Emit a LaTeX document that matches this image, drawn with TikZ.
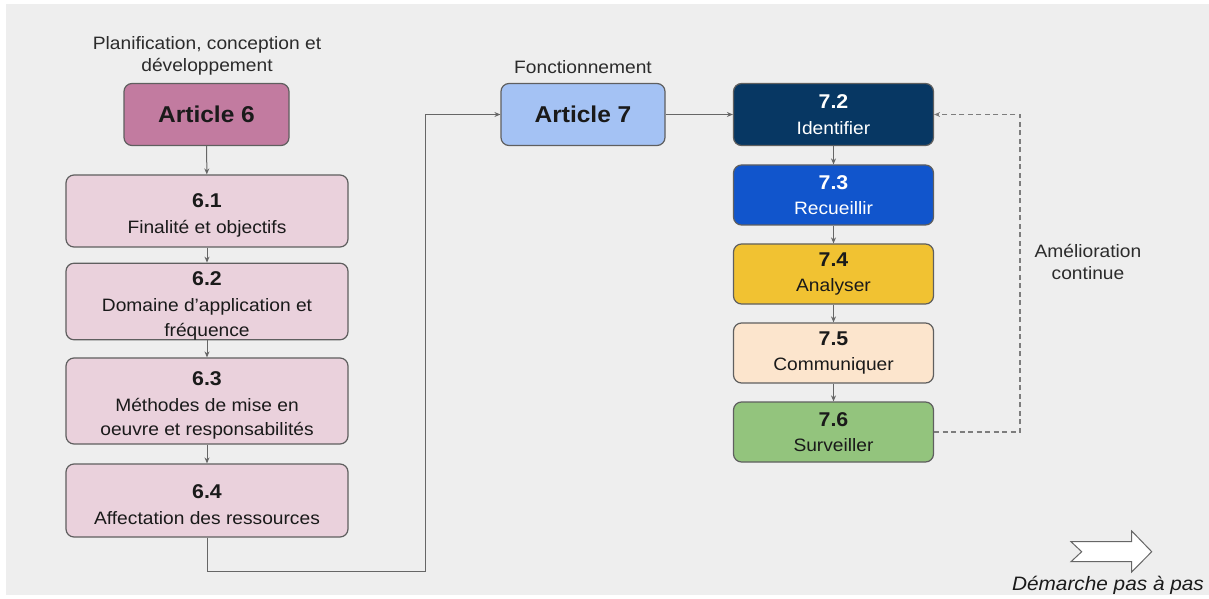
\documentclass[tikz,border=0pt]{standalone}
\usepackage{fontspec}
\setmainfont[FakeStretch=1.07]{Liberation Sans}
\usetikzlibrary{arrows.meta}
\definecolor{bg}{HTML}{EEEEEE}
\definecolor{bordc}{HTML}{5F5F5F}
\definecolor{connc}{HTML}{666666}
\definecolor{txtc}{HTML}{1A1A1A}
\definecolor{labc}{HTML}{2B2B2B}
\definecolor{artsix}{HTML}{C27BA0}
\definecolor{sixfill}{HTML}{EAD1DC}
\definecolor{artseven}{HTML}{A4C2F4}
\definecolor{sdeux}{HTML}{073763}
\definecolor{strois}{HTML}{1155CC}
\definecolor{squatre}{HTML}{F1C232}
\definecolor{scinq}{HTML}{FCE5CD}
\definecolor{ssix}{HTML}{93C47D}
\newcommand{\ttl}[1]{{\bfseries\fontsize{20}{24}\selectfont #1}\\[1bp]}
\newcommand{\ttlL}[1]{{\bfseries\fontsize{20}{24}\selectfont\rule{0pt}{22.5bp}#1}\\[1.5bp]}
\tikzset{
  boxst/.style={draw=bordc, line width=1.2bp, rounded corners=8bp, align=center,
    inner sep=0pt, text=txtc, font=\fontsize{18}{24.5}\selectfont},
  leftbox/.style={boxst, fill=sixfill, minimum width=282bp},
  rightbox/.style={boxst, minimum width=200bp, minimum height=60bp},
  artbox/.style={boxst, minimum width=165bp, minimum height=62bp,
    font=\bfseries\fontsize{23}{26}\selectfont},
  conn/.style={draw=connc, line width=1bp, -{Stealth[length=6bp,width=5bp]}},
  dashconn/.style={draw=connc!85, line width=1.2bp, dash pattern=on 5bp off 3.5bp,
    -{Stealth[length=6bp,width=5bp]}},
  lab/.style={align=center, text=labc, font=\fontsize{18}{22.5}\selectfont, inner sep=0pt}
}
\begin{document}
\begin{tikzpicture}[x=1bp,y=-1bp]
\useasboundingbox (0,0) rectangle (1209,599);
\fill[bg] (6,4) rectangle (1209,595);

% labels
\node[lab] (lplan) at (207,56) {Planification, conception et\\développement};
\node[lab] (lfonc) at (583,67) {Fonctionnement};
\node[lab] (lamel) at (1088,262) {Amélioration\\continue};

% Article 6 column
\node[artbox, fill=artsix] (a6) at (206.5,114.5) {Article 6};
\node[leftbox, minimum height=72bp] (s61) at (207,211) {\ttlL{6.1}Finalité et objectifs};
\node[leftbox, minimum height=73bp] (s62) at (207,301.5) {\ttlL{6.2}Domaine d’application et\\fréquence};
\node[leftbox, minimum height=86bp] (s63) at (207,401) {\ttlL{6.3}Méthodes de mise en\\oeuvre et responsabilités};
\node[leftbox, minimum height=73bp] (s64) at (207,500.5) {\ttlL{6.4}Affectation des ressources};

% Article 7 and steps
\node[artbox, fill=artseven, minimum width=164bp] (a7) at (583,114.5) {Article 7};
\node[rightbox, fill=sdeux, text=white, minimum height=62bp] (s72) at (833.5,114.5) {\ttl{7.2}Identifier};
\node[rightbox, fill=strois, text=white] (s73) at (833.5,195) {\ttl{7.3}Recueillir};
\node[rightbox, fill=squatre] (s74) at (833.5,274) {\ttl{7.4}Analyser};
\node[rightbox, fill=scinq] (s75) at (833.5,353) {\ttl{7.5}Communiquer};
\node[rightbox, fill=ssix] (s76) at (833.5,432) {\ttl{7.6}Surveiller};

% connectors
\draw[conn] (a6) -- (s61);
\draw[conn] (s61) -- (s62);
\draw[conn] (s62) -- (s63);
\draw[conn] (s63) -- (s64);
\coordinate (c1) at (425,571);
\draw[conn] (s64.south) |- (c1) |- (a7.west);
\draw[conn] (a7) -- (s72);
\draw[conn] (s72) -- (s73);
\draw[conn] (s73) -- (s74);
\draw[conn] (s74) -- (s75);
\draw[conn] (s75) -- (s76);
\coordinate (d1) at (1020,432);
\draw[dashconn] (s76.east) -- (d1) |- (s72.east);

% step-by-step block arrow
\draw[fill=white, draw=connc, line width=1bp, line join=miter]
  (1071,541.7) -- (1131.7,541.7) -- (1131.7,531) -- (1151.7,551.7)
  -- (1131.7,572) -- (1131.7,561.7) -- (1071,561.7) -- (1081.7,551.7) -- cycle;
\node[lab, font=\itshape\fontsize{19.5}{22}\selectfont, text=txtc] (ldem) at (1108,585) {Démarche pas à pas};
\end{tikzpicture}
\end{document}
